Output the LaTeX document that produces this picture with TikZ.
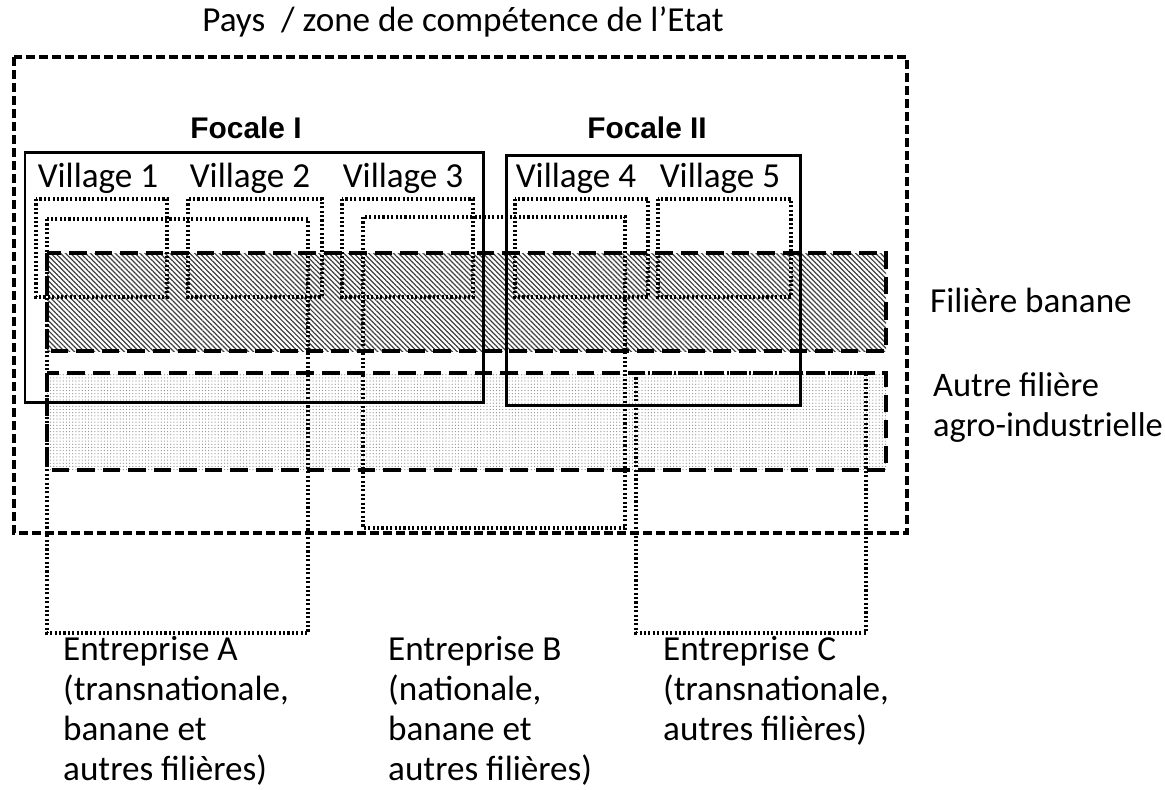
\documentclass[tikz,border=0pt]{standalone}
\usepackage{fontspec}
\setmainfont{Carlito}
\newfontfamily\focfont{Liberation Sans}
\usetikzlibrary{patterns.meta}

\begin{document}
\begin{tikzpicture}[x=0.02cm,y=-0.02cm,
		font=\fontsize{20}{23}\selectfont,
		pays/.style={line width=1.9pt,dash pattern=on 5pt off 2.4pt},
		focale/.style={line width=1.7pt},
		filiere/.style={line width=1.9pt,dash pattern=on 10pt off 4.5pt},
		dotbox/.style={line width=1.8pt,dash pattern=on 1.2pt off 1.3pt},
		banane/.style={pattern={Lines[angle=-45,distance=2pt,line width=0.7pt]},pattern color=black!75},
		autre/.style={pattern={Dots[distance=1.8pt,radius=0.35pt]},pattern color=black!45},
		foclabel/.style={font=\focfont\bfseries\fontsize{17}{20}\selectfont},
		entlabel/.style={anchor=north west,align=left,font=\fontsize{20}{22.8}\selectfont}]
	\useasboundingbox (0,0) rectangle (1165,789);
	% fillings
	\path[banane] (47,253) rectangle (886,351);
	\path[autre] (47,373) rectangle (886,470);
	% villages
	\draw[dotbox] (36,199) rectangle (167,297);
	\draw[dotbox] (188,199) rectangle (322,297);
	\draw[dotbox] (342,199) rectangle (473,297);
	\draw[dotbox] (515,199) rectangle (648,297);
	\draw[dotbox] (658,199) rectangle (791,297);
	% entreprises
	\draw[dotbox] (47,219) rectangle (308,633);
	\draw[dotbox] (363,217) rectangle (625,528);
	\draw[dotbox] (636,373) rectangle (866,633);
	% filieres
	\draw[filiere] (47,253) rectangle (886,351);
	\draw[filiere] (47,373) rectangle (886,470);
	% focales
	\draw[focale] (25,152) rectangle (483,402);
	\draw[focale] (506,155) rectangle (800,405);
	% pays
	\draw[pays] (14,57) rectangle (907,533);
	% texts
	\node (pays) at (463,22) {Pays\ \ / zone de compétence de l’Etat};
	\node[foclabel] (foc_1) at (246,128) {Focale I};
	\node[foclabel] (foc_2) at (647,128) {Focale II};
	\node (vil_1) at (98,178) {Village 1};
	\node (vil_2) at (250,178) {Village 2};
	\node (vil_3) at (403,178) {Village 3};
	\node (vil_4) at (576,178) {Village 4};
	\node (vil_5) at (720,178) {Village 5};
	\node[anchor=west] (fil_ban) at (924,300) {Filière banane};
	\node[entlabel,font=\fontsize{19.6}{22.8}\selectfont] (fil_aut) at (927,366) {Autre filière\\agro-industrielle};
	\node[entlabel] (ent_a) at (57,630) {Entreprise A\\(transnationale,\\banane et\\autres filières)};
	\node[entlabel] (ent_b) at (382,630) {Entreprise B\\(nationale,\\banane et\\autres filières)};
	\node[entlabel] (ent_c) at (657,630) {Entreprise C\\(transnationale,\\autres filières)};
\end{tikzpicture}
\end{document}
